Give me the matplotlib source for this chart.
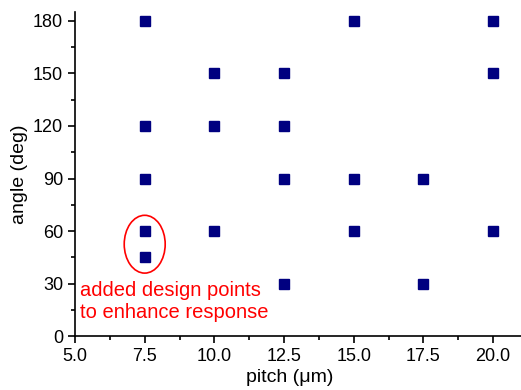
import matplotlib.pyplot as plt
from matplotlib.patches import Ellipse
from matplotlib.ticker import MultipleLocator

plt.rcParams['font.family'] = ['Liberation Sans', 'DejaVu Sans']

# design points (pitch in um, angle in deg)
pitch = [7.5, 7.5, 7.5, 7.5, 7.5,
         10.0, 10.0, 10.0,
         12.5, 12.5, 12.5, 12.5,
         15.0, 15.0, 15.0,
         17.5, 17.5,
         20.0, 20.0, 20.0]
angle = [180, 120, 90, 60, 45,
         150, 120, 60,
         150, 120, 90, 30,
         180, 90, 60,
         90, 30,
         180, 150, 60]

fig = plt.figure(figsize=(5.21, 3.9), dpi=100)
ax = fig.add_axes([0.144, 0.138, 0.856, 0.831])

ax.plot(pitch, angle, 's', color='#000080', markersize=7.2, linestyle='none')

# highlight the added points
ax.add_patch(Ellipse((7.5, 52.5), 1.47, 33, fill=False, edgecolor='red', linewidth=1.2))
ax.text(5.18, 20, "added design points\nto enhance response", color='red',
        fontsize=14.5, ha='left', va='center', linespacing=1.2)

ax.set_xlim(5, 21)
ax.set_ylim(0, 185)
ax.xaxis.set_major_locator(MultipleLocator(2.5))
ax.xaxis.set_minor_locator(MultipleLocator(1.25))
ax.yaxis.set_major_locator(MultipleLocator(30))
ax.yaxis.set_minor_locator(MultipleLocator(15))
ax.xaxis.set_major_formatter(plt.FormatStrFormatter('%.1f'))

for s in ['top', 'right']:
    ax.spines[s].set_visible(False)
for s in ['left', 'bottom']:
    ax.spines[s].set_linewidth(1.2)
ax.tick_params(which='major', direction='out', length=5, width=1.2, labelsize=13)
ax.tick_params(which='minor', direction='out', length=3, width=1.2)

ax.set_xlabel("pitch (\u03bcm)", fontsize=14)
ax.xaxis.set_label_coords(0.482, -0.102)
ax.set_ylabel("angle (deg)", fontsize=14, labelpad=4)

fig.savefig("out.png", dpi=100)
